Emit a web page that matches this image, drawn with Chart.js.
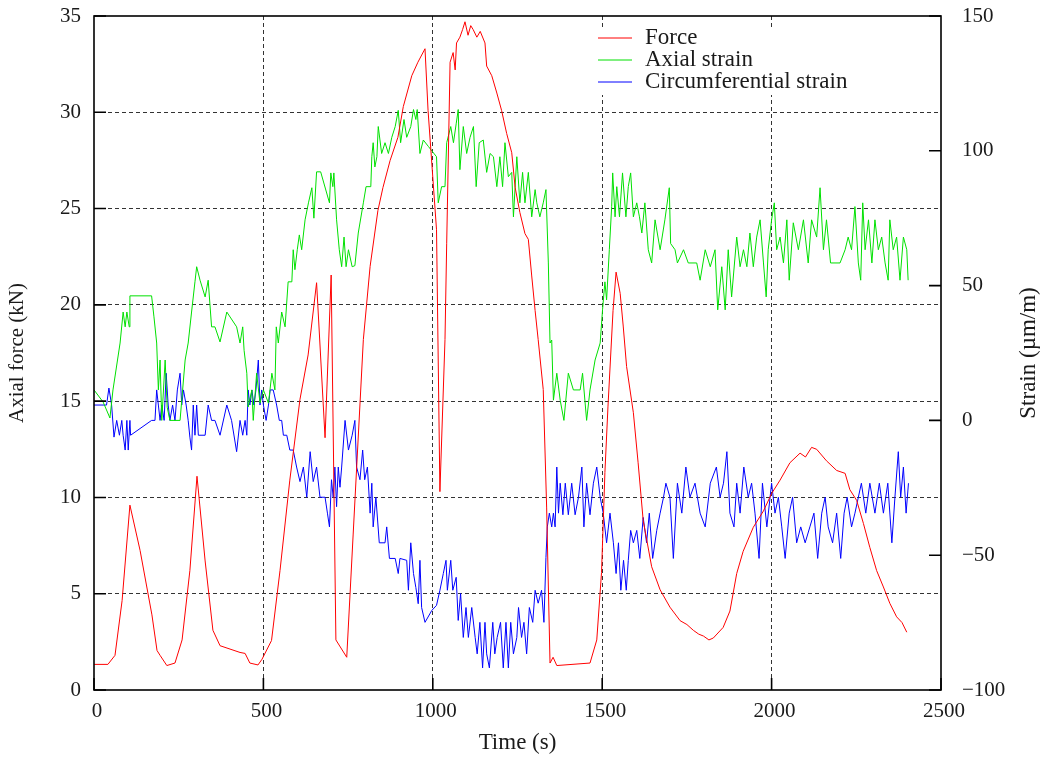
<!DOCTYPE html>
<html>
<head>
<meta charset="utf-8">
<script src="https://cdn.jsdelivr.net/npm/chart.js@4.4.0/dist/chart.umd.min.js"></script>
<style>
    html, body { margin: 0; padding: 0; background: #fff; }
</style>
</head>
<body>
<canvas id="grafico" width="1048" height="760"></canvas>
<script>
    // Dados: [tempo (s), valor]
    var forca = [[0,1.33],[41,1.33],[62,1.8],[83,4.65],[106,9.6],[136,7.25],[171,3.9],[186,2.05],[195,1.8],[215,1.27],
        [239,1.4],[260,2.6],[283,6.2],[304,11.1],[328,6.7],[351,3.1],[372,2.3],[431,1.95],[446,1.9],[460,1.4],
        [484,1.3],[496,1.6],[524,2.57],[549,6.2],[578,10.9],[608,15.1],[632,17.4],[657,21.15],[682,13.1],[700,21.55],
        [714,2.6],[746,1.7],[765,8.1],[795,18.2],[815,22.0],[838,24.9],[853,26.1],[874,27.5],[897,28.7],[913,30.3],
        [938,31.9],[956,32.6],[977,33.3],[986,30.1],[1011,23.9],[1021,10.3],[1036,18.2],[1041,23.2],[1051,32.6],[1060,33.1],
        [1066,32.2],[1070,33.6],[1080,33.9],[1088,34.3],[1095,34.7],[1104,34.0],[1112,34.5],[1119,34.3],[1130,33.9],[1140,34.2],
        [1154,33.6],[1159,32.4],[1174,31.9],[1189,31.0],[1203,30.1],[1218,28.9],[1233,27.9],[1243,26.1],[1257,24.8],[1272,23.7],
        [1282,23.4],[1292,21.5],[1302,19.7],[1311,18.2],[1326,15.6],[1336,9.5],[1346,1.4],[1355,1.7],[1366,1.27],[1464,1.4],
        [1484,2.6],[1498,6.1],[1508,11.3],[1517,14.7],[1532,19.7],[1541,21.7],[1553,20.6],[1562,18.9],[1572,16.8],[1592,14.4],
        [1606,11.8],[1621,8.8],[1646,6.4],[1671,5.2],[1700,4.3],[1730,3.6],[1750,3.4],[1769,3.1],[1785,2.9],[1799,2.8],
        [1815,2.6],[1828,2.7],[1857,3.25],[1877,4.1],[1897,6.05],[1916,7.2],[1946,8.45],[1976,9.3],[2000,10.2],[2025,10.9],
        [2054,11.8],[2084,12.3],[2100,12.1],[2118,12.6],[2133,12.5],[2162,11.9],[2192,11.4],[2217,11.25],[2231,10.4],[2251,9.85],
        [2271,8.65],[2290,7.4],[2310,6.2],[2330,5.35],[2349,4.5],[2369,3.8],[2385,3.5],[2399,3.0]];

    var deformacaoAxial = [[0,11.3],[27,6.8],[47,0.9],[56,11.3],[77,28.7],[86,40.2],[92,34.7],[97,40.2],[104,34.7],[106,46.2],
        [170,46.2],[177,38.4],[185,28.7],[190,11.3],[195,22.4],[200,0],[210,22.4],[216,4.9],[224,0],[254,0],
        [269,22.4],[278,28.7],[288,40.2],[298,51.4],[303,57],[313,52],[328,45.8],[337,52],[347,34.7],[357,34.7],
        [372,29.1],[392,40.2],[421,34.7],[431,28.7],[439,34.7],[443,26],[451,17.5],[455,5],[466,11.3],[470,0],
        [480,17.5],[490,6.4],[500,11.3],[515,6.4],[525,17.5],[534,11.3],[538,34.7],[544,28.7],[554,40.2],[564,34.7],
        [573,51.4],[584,51.4],[588,63.3],[593,55.9],[600,63.3],[606,68.8],[613,63.3],[623,74.4],[633,80.7],[643,86.3],
        [649,75],[657,92.2],[669,92.2],[695,80.7],[699,91.8],[705,86.7],[708,91.8],[716,74.4],[724,63.3],[731,57],
        [738,68],[744,57],[751,63.3],[762,57],[770,57.4],[780,69.5],[795,80.7],[803,86.7],[817,86.7],[820,97.8],
        [824,103],[829,94],[835,97.8],[839,109],[849,99],[859,103],[869,99],[879,105],[889,109],[898,115],
        [905,103],[915,111.6],[923,105],[935,109],[943,115.3],[950,111.6],[954,115.3],[962,99],[972,104],[987,101.6],
        [1011,97.8],[1016,80.7],[1026,86.7],[1036,86.7],[1041,103],[1053,109],[1061,103],[1069,110],[1075,115.3],[1080,93],
        [1090,109],[1100,99],[1110,105],[1120,109],[1128,86.7],[1137,103],[1149,104],[1159,92],[1169,99],[1179,97.8],
        [1189,86.7],[1198,97.8],[1206,86.7],[1213,103],[1223,90.4],[1233,92],[1238,75.5],[1248,97.8],[1257,80.7],[1265,92],
        [1272,80.7],[1282,92],[1292,75.5],[1302,85.6],[1307,80.7],[1316,75.5],[1326,80.7],[1334,85.6],[1341,58.4],[1346,28.7],
        [1351,29.8],[1356,7.5],[1366,17.5],[1376,7.5],[1387,0],[1400,17.5],[1415,11.3],[1435,11.3],[1442,17.5],[1454,0],
        [1464,11.3],[1479,22.4],[1494,28.7],[1501,41],[1508,51.4],[1513,44.7],[1521,63.3],[1528,79.3],[1531,91.8],[1538,75.5],
        [1543,86.7],[1551,75.5],[1560,91.8],[1570,75.5],[1577,86.7],[1584,91.8],[1592,75.5],[1602,80.7],[1610,75.5],[1617,69.5],
        [1626,80.7],[1636,63.3],[1646,58.4],[1656,74.4],[1671,63.3],[1685,74.4],[1698,86.3],[1702,65.6],[1715,63.3],[1722,58.4],
        [1740,63.3],[1754,58.4],[1779,58.4],[1789,52],[1804,63.3],[1819,57],[1833,63.3],[1841,41],[1853,57],[1863,41],
        [1872,63.3],[1882,45.8],[1897,68],[1907,57],[1917,63.3],[1927,57],[1936,69.5],[1946,57],[1956,68],[1966,74.4],
        [1976,58.4],[1984,45.8],[1990,63.3],[2000,74.4],[2008,80.7],[2015,63.3],[2025,68],[2035,58.4],[2045,74.4],[2052,52],
        [2064,73.3],[2079,63.3],[2094,74.4],[2108,58.4],[2118,74.4],[2133,68],[2143,86.3],[2153,63.3],[2162,74.4],[2174,58.4],
        [2202,58.4],[2217,63.3],[2226,68],[2236,63.3],[2246,79.3],[2256,58.4],[2263,52],[2269,80.7],[2276,63.3],[2286,74.4],
        [2296,58.4],[2305,74.4],[2315,63.3],[2325,68],[2335,58.4],[2344,52],[2349,74.4],[2359,63.3],[2369,68],[2379,52],
        [2389,68],[2399,63.3],[2403,52]];

    var deformacaoCirc = [[0,5.7],[37,5.7],[44,12],[52,5.7],[59,-6.2],[67,0],[75,-5.5],[82,0],[86,-5.5],[92,-11],
        [97,0],[101,-11],[106,0],[108,-5.5],[170,0],[180,0],[185,11.3],[190,5.7],[195,0],[200,5.7],
        [207,0],[213,17.5],[219,5.7],[224,0],[232,5.7],[239,0],[246,11.3],[254,17.5],[259,5.7],[264,11.3],
        [272,5.7],[278,0],[283,-6.2],[288,-11],[293,5.7],[298,-5.5],[303,5.7],[308,-5.5],[328,-5.5],[337,5.7],
        [347,0],[357,0],[372,-5.5],[392,5.7],[406,0],[421,-11.6],[431,0],[439,-5.5],[446,0],[451,-5.5],
        [455,11.3],[460,5.7],[466,11.3],[472,5.7],[478,11.3],[485,22.4],[490,5.7],[495,11.3],[500,5.7],[508,0],
        [515,5.7],[520,11.3],[529,11.3],[539,5.7],[547,0],[554,0],[559,-5.5],[569,-5.5],[578,-11],[588,-11],
        [598,-17.3],[608,-22.7],[618,-17.3],[628,-28.5],[638,-11.6],[647,-22.7],[657,-17.3],[667,-28.5],[682,-28.5],[689,-34.4],
        [695,-39.5],[701,-22],[706,-28.5],[711,-17.3],[716,-32],[721,-17.3],[726,-24.8],[731,-17.3],[741,0],[751,-11],
        [762,-5.5],[770,0],[775,-17.3],[785,-22],[793,-11],[799,-22],[807,-17.3],[815,-34.4],[820,-23.3],[824,-39.5],
        [832,-28.5],[842,-45.4],[859,-45.4],[864,-39.5],[872,-51.2],[889,-51.2],[898,-56.8],[903,-51.2],[923,-51.9],[928,-63],
        [935,-45.4],[943,-56.8],[950,-62],[957,-68],[962,-51.9],[967,-69.4],[977,-74.9],[997,-70.5],[1011,-68.6],[1021,-63],
        [1031,-56.8],[1039,-51.9],[1043,-63],[1053,-51.9],[1059,-63],[1069,-58.2],[1075,-74.2],[1082,-64.2],[1090,-80.5],[1098,-69.4],
        [1105,-80.5],[1115,-69.4],[1125,-80.5],[1131,-86.6],[1139,-74.9],[1147,-91.8],[1154,-74.9],[1159,-86.6],[1167,-91.8],[1177,-74.9],
        [1183,-86.6],[1190,-80.5],[1200,-74.9],[1208,-91.8],[1216,-74.9],[1223,-91.8],[1230,-74.9],[1238,-86.6],[1248,-80.5],[1253,-69.4],
        [1262,-80.5],[1269,-74.9],[1277,-86.6],[1285,-69.4],[1295,-74.9],[1302,-63],[1311,-67.8],[1321,-63],[1328,-74.9],[1334,-50.8],
        [1338,-39.5],[1344,-34.4],[1351,-39.5],[1356,-34.4],[1361,-39.5],[1366,-17.3],[1371,-34.4],[1376,-23.3],[1384,-35],[1391,-23.3],
        [1400,-35],[1410,-23.3],[1420,-35],[1430,-28.5],[1440,-17.3],[1446,-39.5],[1454,-23.3],[1464,-35],[1474,-23.3],[1484,-17.3],
        [1494,-28.5],[1503,-34.4],[1513,-45.4],[1523,-34.4],[1533,-45.4],[1541,-56.8],[1548,-45.4],[1555,-63],[1563,-51.9],[1571,-63],
        [1577,-51.9],[1584,-40.8],[1592,-45.4],[1602,-40.8],[1611,-51.2],[1621,-36],[1631,-45.4],[1639,-34.4],[1649,-51.2],[1661,-40.8],
        [1671,-34.4],[1681,-28.5],[1688,-23.3],[1700,-28.5],[1710,-51.2],[1722,-23.3],[1735,-34.4],[1747,-17.3],[1759,-28.5],[1774,-23.3],
        [1789,-34.4],[1804,-39.5],[1819,-23.3],[1837,-17.3],[1848,-28.5],[1858,-23.3],[1868,-11.6],[1877,-34.4],[1889,-39.5],[1897,-23.3],
        [1907,-34.4],[1918,-17.3],[1931,-28.5],[1941,-23.3],[1951,-34.4],[1963,-51.2],[1973,-23.3],[1986,-39.5],[2000,-23.3],[2010,-34.4],
        [2020,-28.5],[2030,-39.5],[2040,-51.2],[2052,-34.4],[2062,-28.5],[2074,-45.4],[2086,-39.5],[2099,-45.4],[2113,-39.5],[2125,-34.4],
        [2136,-51.2],[2148,-34.4],[2158,-28.5],[2167,-39.5],[2180,-45.4],[2192,-34.4],[2204,-51.2],[2214,-34.4],[2223,-28.5],[2236,-39.5],
        [2246,-34.4],[2256,-28.5],[2265,-23.3],[2278,-34.4],[2290,-23.3],[2305,-34.4],[2318,-23.3],[2330,-34.4],[2343,-23.3],[2355,-45.4],
        [2364,-28.5],[2374,-11.6],[2381,-28.5],[2389,-17.3],[2397,-34.4],[2404,-23.3]];

    var nomesSeries = ['Force', 'Axial strain', 'Circumferential strain'];
    var cores = ['#ff0000', '#00e000', '#0000ff'];

    var fonte = 'Liberation Serif, Times New Roman, serif';
    var corTexto = '#1a1a1a';
    var tituloDireita = 'Strain (\u00b5m/m)';

    function pontos(lista) {
        return lista.map(function(p) { return {x: p[0], y: p[1]}; });
    }

    // legenda, moldura, titulo da direita e marcas internas (estilo gnuplot)
    const moldura = {
        id: 'moldura',
        beforeDatasetsDraw(chart) {
            const ctx = chart.ctx;
            const a = chart.chartArea;
            ctx.save();
            ctx.fillStyle = '#fff';
            ctx.fillRect(a.right - 350, a.top + 11, 274, 68);
            ctx.restore();
        },
        afterDatasetsDraw(chart) {
            const ctx = chart.ctx;
            const a = chart.chartArea;
            const s = chart.scales;
            ctx.save();

            // legenda
            ctx.font = '23px ' + fonte;
            ctx.textBaseline = 'middle';
            ctx.textAlign = 'left';
            chart.data.datasets.forEach(function(ds, i) {
                var yy = a.top + 22 + i * 22;
                ctx.strokeStyle = ds.borderColor;
                ctx.lineWidth = 1;
                ctx.beginPath();
                ctx.moveTo(a.right - 343, yy);
                ctx.lineTo(a.right - 309, yy);
                ctx.stroke();
                ctx.fillStyle = corTexto;
                ctx.fillText(ds.label, a.right - 296, yy);
            });

            // titulo do eixo da direita, lido de baixo para cima
            ctx.save();
            ctx.font = '23px ' + fonte;
            ctx.translate(1029, (a.top + a.bottom) / 2);
            ctx.rotate(-Math.PI / 2);
            ctx.textAlign = 'center';
            ctx.fillText(tituloDireita, 0, 0);
            ctx.restore();

            // moldura
            ctx.strokeStyle = '#000';
            ctx.lineWidth = 1.6;
            ctx.strokeRect(a.left, a.top, a.right - a.left, a.bottom - a.top);

            // marcas
            ctx.beginPath();
            s.y.ticks.forEach(function(t) {
                var py = s.y.getPixelForValue(t.value);
                ctx.moveTo(a.left, py);
                ctx.lineTo(a.left + 12, py);
            });
            s.y2.ticks.forEach(function(t) {
                var py = s.y2.getPixelForValue(t.value);
                ctx.moveTo(a.right, py);
                ctx.lineTo(a.right - 12, py);
            });
            s.x.ticks.forEach(function(t) {
                var px = s.x.getPixelForValue(t.value);
                ctx.moveTo(px, a.bottom);
                ctx.lineTo(px, a.bottom - 12);
            });
            ctx.stroke();
            ctx.restore();
        }
    };

    function gradeCor(ctx) {
        var sc = ctx.scale;
        if (ctx.tick.value === sc.min || ctx.tick.value === sc.max) return 'rgba(0,0,0,0)';
        return '#333';
    }

    function semVirgula(v) {
        return v < 0 ? '\u2212' + Math.abs(v) : '' + v;
    }

    new Chart(document.getElementById('grafico').getContext('2d'), {
        type: 'line',
        data: {
            datasets: [
                { label: nomesSeries[0], data: pontos(forca), yAxisID: 'y', borderColor: cores[0] },
                { label: nomesSeries[1], data: pontos(deformacaoAxial), yAxisID: 'y2', borderColor: cores[1] },
                { label: nomesSeries[2], data: pontos(deformacaoCirc), yAxisID: 'y2', borderColor: cores[2] }
            ]
        },
        options: {
            responsive: false,
            devicePixelRatio: 1,
            animation: false,
            layout: { padding: { top: 16, left: 0, right: 0, bottom: 0 } },
            elements: {
                line: { borderWidth: 1, tension: 0, fill: false },
                point: { radius: 0 }
            },
            plugins: {
                legend: { display: false },
                tooltip: { enabled: false }
            },
            scales: {
                x: {
                    type: 'linear',
                    min: 0,
                    max: 2500,
                    ticks: { stepSize: 500, padding: 9, labelOffset: 3, color: corTexto, font: { family: fonte, size: 21 }, maxRotation: 0, callback: semVirgula },
                    grid: { color: gradeCor, lineWidth: 1, drawTicks: false },
                    border: { display: false, dash: [4, 3] },
                    title: { display: true, text: 'Time (s)', color: corTexto, font: { family: fonte, size: 23 }, padding: { top: 0, bottom: 3 } },
                    afterFit: function(scale) { scale.height = 70; scale.paddingLeft = 0; scale.paddingRight = 0; }
                },
                y: {
                    position: 'left',
                    min: 0,
                    max: 35,
                    ticks: { stepSize: 5, padding: 13, color: corTexto, font: { family: fonte, size: 21 }, callback: semVirgula },
                    grid: { color: gradeCor, lineWidth: 1, drawTicks: false },
                    border: { display: false, dash: [4, 3] },
                    title: { display: true, text: 'Axial force (kN)', color: corTexto, font: { family: fonte, size: 21 }, padding: { top: 5, bottom: 0 } },
                    afterFit: function(scale) { scale.width = 94; scale.paddingTop = 0; scale.paddingBottom = 0; }
                },
                y2: {
                    position: 'right',
                    min: -100,
                    max: 150,
                    ticks: { stepSize: 50, padding: 21, color: corTexto, font: { family: fonte, size: 21 }, callback: semVirgula },
                    grid: { display: false, drawTicks: false },
                    border: { display: false },
                    afterFit: function(scale) { scale.width = 107; scale.paddingTop = 0; scale.paddingBottom = 0; }
                }
            }
        },
        plugins: [moldura]
    });
</script>
</body>
</html>
